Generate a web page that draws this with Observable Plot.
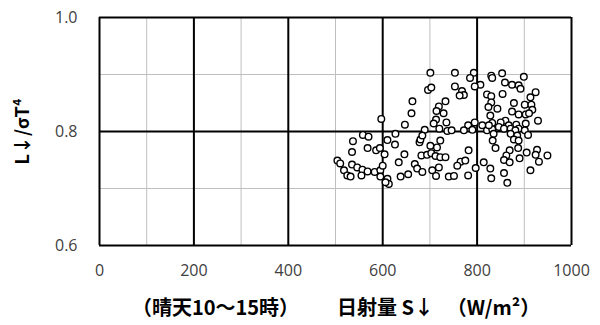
<!DOCTYPE html>
<html>
<head>
<meta charset="utf-8">
<script src="https://cdn.jsdelivr.net/npm/d3@7"></script>
<script src="https://cdn.jsdelivr.net/npm/@observablehq/plot@0.6"></script>
<style>
  html, body { margin: 0; padding: 0; background: white; }
</style>
</head>
<body>
<div id="chart"></div>
<script>
// Solar radiation S↓ (W/m²), clear sky 10–15h
const xs = [
  597,661,647,663,558,570,537,627,610,626,568,586,594,535,604,646,678,680,682,504,
  510,535,546,557,568,583,595,600,634,668,673,684,518,525,532,555,595,610,613,606,
  638,654,701,753,793,830,785,807,795,696,703,753,768,772,763,821,830,733,719,714,
  729,713,708,735,720,737,795,781,772,790,811,821,832,830,824,828,689,684,722,701,
  715,694,703,712,722,733,782,765,775,758,797,814,828,705,719,713,740,751,781,830,
  746,832,832,853,899,859,874,888,892,924,913,854,843,878,901,915,917,874,888,903,
  910,929,903,860,850,825,883,867,846,857,871,888,901,881,835,871,885,908,878,888,
  833,839,887,869,927,862,857,869,890,905,924,949,931,913,857,864
];
// L↓/σT⁴
const ys = [
  .822,.832,.812,.853,.794,.791,.783,.796,.785,.777,.771,.767,.771,.764,.760,.760,.781,.786,.758,.749,
  .744,.742,.737,.733,.730,.729,.732,.740,.746,.743,.735,.729,.732,.723,.721,.723,.721,.717,.708,.711,
  .721,.725,.903,.903,.903,.898,.894,.882,.879,.873,.877,.879,.871,.864,.863,.865,.862,.853,.844,.836,
  .832,.821,.814,.816,.805,.801,.816,.811,.802,.803,.811,.802,.815,.851,.843,.828,.803,.793,.784,.775,
  .772,.759,.762,.757,.755,.755,.767,.747,.749,.740,.736,.746,.735,.732,.737,.722,.721,.722,.723,.718,
  .802,.804,.894,.902,.896,.886,.882,.881,.875,.869,.860,.866,.840,.850,.847,.847,.838,.835,.830,.830,
  .832,.819,.814,.819,.816,.811,.812,.811,.808,.805,.805,.805,.802,.802,.796,.796,.793,.794,.786,.784,
  .784,.771,.771,.767,.768,.758,.750,.746,.753,.763,.759,.758,.747,.732,.727,.710
];
const xTicks = [0, 200, 400, 600, 800, 1000];
const xMinor = [100, 300, 500, 700, 900];
const yTicks = [0.6, 0.8, 1.0];
const yMinor = [0.7, 0.9];
const xTitleParts = ["（晴天10～15時）", "日射量 S↓", "（W/m²）"];
const yTitle = "L↓/σT⁴";

const points = xs.map((x, i) => ({x, y: ys[i]}));
const titleStyle = {fill: "black", fontWeight: "bold", fontSize: 20,
  fontFamily: "'Noto Sans CJK JP', sans-serif", frameAnchor: "bottom",
  textAnchor: "middle", lineAnchor: "middle", dy: 63};

const chart = Plot.plot({
  width: 600,
  height: 325,
  marginLeft: 99,
  marginRight: 29,
  marginTop: 17,
  marginBottom: 80,
  x: {domain: [0, 1000]},
  y: {domain: [0.6, 1.0]},
  style: {fontFamily: "'Open Sans', sans-serif", fontSize: "16px", color: "#404040", background: "white"},
  marks: [
    Plot.ruleX(xMinor, {stroke: "#bfbfbf", strokeWidth: 1}),
    Plot.ruleY(yMinor, {stroke: "#bfbfbf", strokeWidth: 1}),
    Plot.ruleX(xTicks, {stroke: "#000", strokeWidth: 2}),
    Plot.ruleY(yTicks, {stroke: "#000", strokeWidth: 2}),
    Plot.axisX(xTicks, {tickSize: 0, tickPadding: 19, tickFormat: d => String(d), label: null, fill: "#404040"}),
    Plot.axisY(yTicks, {tickSize: 0, tickPadding: 22, tickFormat: d3.format(".1f"), label: null, fill: "#404040"}),
    Plot.dot(points, {x: "x", y: "y", r: 3.3, stroke: "#000", strokeWidth: 1.4, fill: "white"}),
    Plot.text([yTitle], {text: d => d, frameAnchor: "left", textAnchor: "middle", lineAnchor: "middle",
      dx: -76, rotate: -90, fill: "black",
      fontWeight: "bold", fontSize: 18, fontFamily: "'Noto Sans CJK JP', sans-serif"}),
    Plot.text([xTitleParts[0]], {...titleStyle, text: d => d, dx: -120}),
    Plot.text([xTitleParts[1]], {...titleStyle, text: d => d, dx: 50}),
    Plot.text([xTitleParts[2]], {...titleStyle, text: d => d, dx: 158})
  ]
});
document.getElementById("chart").appendChild(chart);
</script>
</body>
</html>
